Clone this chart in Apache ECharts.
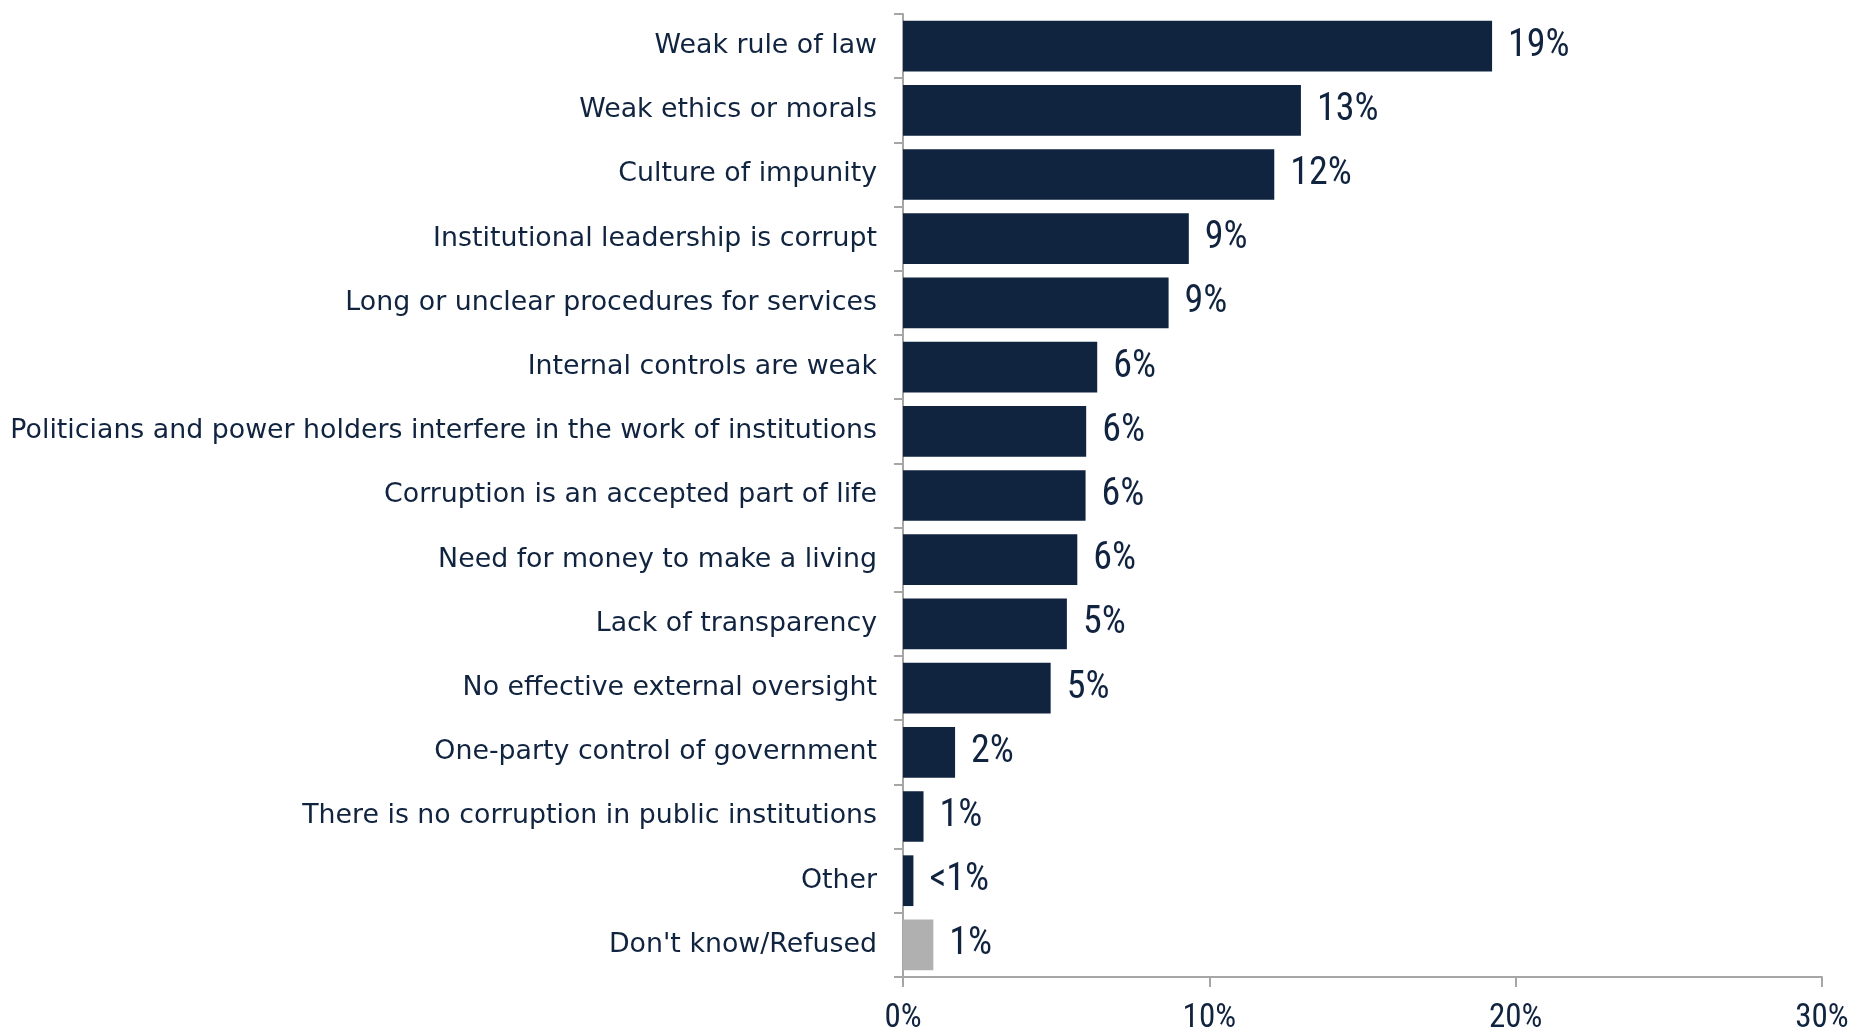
<!DOCTYPE html>
<html>
<head>
<meta charset="utf-8">
<script src="https://cdn.jsdelivr.net/npm/echarts@6/dist/echarts.min.js"></script>
<style>
html,body{margin:0;padding:0;background:#fff;}
#chart{width:1857px;height:1033px;}
</style>
</head>
<body>
<div id="chart"></div>
<script>
var categories = [
  "Weak rule of law",
  "Weak ethics or morals",
  "Culture of impunity",
  "Institutional leadership is corrupt",
  "Long or unclear procedures for services",
  "Internal controls are weak",
  "Politicians and power holders interfere in the work of institutions",
  "Corruption is an accepted part of life",
  "Need for money to make a living",
  "Lack of transparency",
  "No effective external oversight",
  "One-party control of government",
  "There is no corruption in public institutions",
  "Other",
  "Don't know/Refused"
];
var values = [19.23, 12.99, 12.12, 9.33, 8.67, 6.34, 5.98, 5.96, 5.69, 5.35, 4.82, 1.70, 0.67, 0.34, 0.99];
var valueLabels = ["19%", "13%", "12%", "9%", "9%", "6%", "6%", "6%", "6%", "5%", "5%", "2%", "1%", "<1%", "1%"];
var greyCategories = ["Don't know/Refused"];
var xTicks = [0, 10, 20, 30];

var NAVY = '#10233f';
var GREY = '#b0b0b0';
var NUM_FONT = '"Roboto Condensed", "Liberation Sans Narrow", "DejaVu Sans Condensed", Roboto, sans-serif';

var chart = echarts.init(document.getElementById('chart'), null, {renderer: 'canvas'});

var data = values.map(function (v, i) {
  return {
    value: v,
    itemStyle: {color: greyCategories.indexOf(categories[i]) >= 0 ? GREY : NAVY},
    label: {formatter: valueLabels[i]}
  };
});

chart.setOption({
  animation: false,
  backgroundColor: '#ffffff',
  grid: {left: 903, right: 35, top: 14, bottom: 56, containLabel: false, outerBoundsMode: 'none'},
  xAxis: {
    type: 'value',
    min: xTicks[0],
    max: xTicks[xTicks.length - 1],
    interval: 10,
    axisLine: {show: true, lineStyle: {color: '#a6a6a6', width: 2}},
    axisTick: {show: true, inside: false, length: 10, lineStyle: {color: '#a6a6a6', width: 2}},
    splitLine: {show: false},
    axisLabel: {
      formatter: function (v) { return v + '%'; },
      color: NAVY,
      fontFamily: NUM_FONT,
      fontSize: 33,
      margin: 25
    }
  },
  yAxis: {
    type: 'category',
    data: categories,
    inverse: true,
    axisLine: {show: true, lineStyle: {color: '#a6a6a6', width: 2}},
    axisTick: {show: true, length: 9, alignWithLabel: false, lineStyle: {color: '#a6a6a6', width: 2}},
    axisLabel: {
      color: NAVY,
      fontFamily: '"DejaVu Sans", sans-serif',
      fontSize: 26.8,
      margin: 26
    }
  },
  series: [{
    type: 'bar',
    data: data,
    barCategoryGap: '21%',
    label: {
      show: true,
      position: 'right',
      distance: 16,
      color: NAVY,
      fontFamily: NUM_FONT,
      fontSize: 38
    }
  }]
});
</script>
</body>
</html>
